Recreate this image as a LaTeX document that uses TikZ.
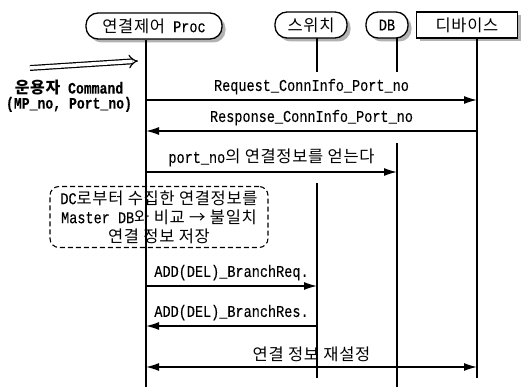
\documentclass[tikz,border=0pt]{standalone}
\usepackage{fontspec}
\setmainfont[FakeStretch=0.82, FakeBold=0.15]{Liberation Mono}
\newfontfamily\kr[LetterSpace=4]{Noto Sans CJK KR}
\usetikzlibrary{arrows.meta,shadows}

\tikzset{
  actor/.style={draw, line width=1.3pt, rounded corners=12pt, minimum height=26pt,
    inner sep=2pt, fill=white,
    drop shadow={shadow xshift=3.5pt, shadow yshift=-3.5pt, fill=gray!60, opacity=1}},
  life/.style={line width=1.3pt},
  msg/.style={line width=1.3pt, -{Latex[length=13pt,width=8pt]}},
  both/.style={line width=1.3pt, {Latex[length=13pt,width=8pt]}-{Latex[length=13pt,width=8pt]}},
  lbl/.style={above, inner sep=0pt, yshift=5pt},
}

\begin{document}
\begin{tikzpicture}[x=1pt, y=-1pt, font=\fontsize{16.5}{18}\selectfont]
  \useasboundingbox (0,0) rectangle (531,387);

  % headers
  \node[actor, minimum width=136pt] (proc) at (154,26) {{\kr 연결제어} Proc};
  \node[actor, minimum width=72pt] (sw) at (311,25) {\kr 스위치};
  \node[actor, minimum width=42pt] (db) at (387,25) {DB};
  \node[actor, rounded corners=0pt, minimum width=101pt] (dev) at (467,25) {\kr 디바이스};

  % lifelines
  \coordinate (pT) at (146,40);  \coordinate (pB) at (146,387);
  \coordinate (sT) at (317,38);  \coordinate (sB) at (317,378);
  \coordinate (dT) at (397,38);  \coordinate (dB) at (397,387);
  \coordinate (vT) at (477,38);  \coordinate (vB) at (477,378);
  \coordinate (sGap1) at (317,72);  \coordinate (sGap2) at (317,183);
  \coordinate (dGap1) at (397,72);  \coordinate (dGap2) at (397,143);
  \draw[life] (pT) -- (pB);
  \draw[life] (sT) -- (sGap1) (sGap2) -- (sB);
  \draw[life] (dT) -- (dGap1) (dGap2) -- (dB);
  \draw[life] (vT) -- (vB);

  % operator command
  \coordinate (c1) at (30,68);
  \coordinate (c2) at (138,61);
  \draw[double, double distance=3.5pt, line width=1.2pt, -{Implies}] (c1) -- (c2);
  \node[align=center, font=\bfseries\fontsize{16}{15}\selectfont] (cmd) at (69,96)
    {{\kr 운용자} Command\\(MP\_no, Port\_no)};

  % message rows
  \coordinate (r1) at (0,100);
  \coordinate (r2) at (0,131);
  \coordinate (r3) at (0,172);
  \coordinate (r4) at (0,286);
  \coordinate (r5) at (0,326);
  \coordinate (r6) at (0,367);

  \draw[msg] (pT |- r1) -- (vT |- r1) node[lbl, midway] (req) {Request\_ConnInfo\_Port\_no};
  \draw[msg] (vT |- r2) -- (pT |- r2) node[lbl, midway] (res) {Response\_ConnInfo\_Port\_no};
  \draw[msg] (pT |- r3) -- (dT |- r3) node[lbl, midway] (get) {port\_no{\kr 의 연결정보를 얻는다}};

  \node[draw, dashed, dash pattern=on 5pt off 3pt, line width=1.1pt, rounded corners=9pt,
    minimum width=218pt, minimum height=61pt, align=center, inner sep=2pt,
    font=\fontsize{16.5}{19}\selectfont] (note) at (159,217)
    {DC{\kr 로부터 수집한 연결정보를}\\Master DB{\kr 와 비교 → 불일치}\\{\kr 연결 정보 저장}};

  \draw[msg] (pT |- r4) -- (sT |- r4) node[lbl, midway] (breq) {ADD(DEL)\_BranchReq.};
  \draw[msg] (sT |- r5) -- (pT |- r5) node[lbl, midway] (bres) {ADD(DEL)\_BranchRes.};
  \draw[both] (pT |- r6) -- (vT |- r6) node[lbl, midway] (reset) {\kr 연결 정보 재설정};
\end{tikzpicture}
\end{document}
